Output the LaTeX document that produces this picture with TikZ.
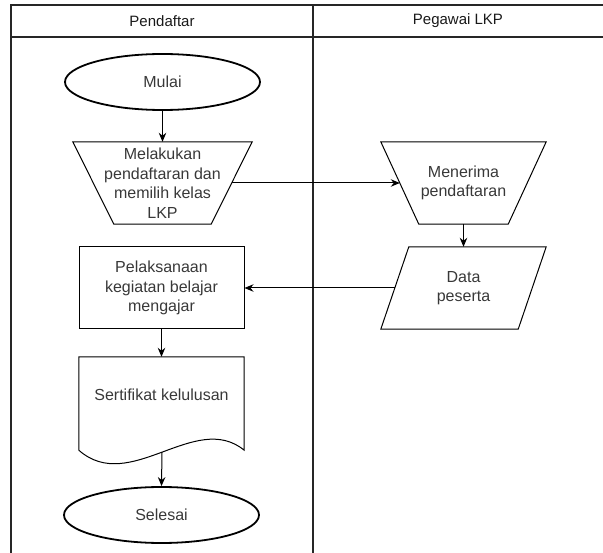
\documentclass[tikz,border=0pt]{standalone}
\usepackage{fontspec}
\setmainfont{Liberation Sans}
\usetikzlibrary{arrows.meta,calc,shapes.geometric}
\begin{document}
\begin{tikzpicture}[x=1pt,y=-1pt,
  lane/.style={draw=black!85,line width=1.3pt},
  hdr/.style={text=black!90,font=\fontsize{15}{18}\selectfont,inner sep=0pt},
  txt/.style={text=black!78,font=\fontsize{16}{19.5}\selectfont,align=center,inner sep=0pt},
  term/.style={ellipse,draw=black,line width=1.8pt,minimum width=195pt,minimum height=56pt,txt},
  box/.style={txt,minimum width=165pt,minimum height=82pt},
  outline/.style={draw=black,line width=1pt},
  flow/.style={draw=black,line width=1pt,-{Stealth[length=9pt,width=7.5pt]}}]
\useasboundingbox (0,0) rectangle (603,553);
% swimlanes
\draw[lane] (11,553) -- (11,5) -- (603,5);
\draw[lane] (11,37) -- (603,37);
\draw[lane] (313,5) -- (313,553);
\node[hdr] (h1) at (162,21) {Pendaftar};
\node[hdr] (h2) at (458,21) {Pegawai LKP};
% nodes
\node[term] (start) at (162.5,82) {Mulai};
\node[box,minimum width=179pt] (t1) at (162.5,183) {Melakukan\\pendaftaran dan\\memilih kelas\\LKP};
\draw[outline] (t1.north west) -- (t1.north east) -- ($(t1.south east)+(-41,0)$) -- ($(t1.south west)+(41,0)$) -- cycle;
\node[box] (t2) at (463.5,183) {Menerima\\pendaftaran};
\draw[outline] (t2.north west) -- (t2.north east) -- ($(t2.south east)+(-38,0)$) -- ($(t2.south west)+(38,0)$) -- cycle;
\node[box] (data) at (463.5,288) {Data\\peserta};
\draw[outline] ($(data.north west)+(28,0)$) -- (data.north east) -- ($(data.south east)+(-28,0)$) -- (data.south west) -- cycle;
\node[box,draw=black,line width=1pt] (proc) at (161.5,288) {Pelaksanaan\\kegiatan belajar\\mengajar};
\node[minimum width=165pt,minimum height=93pt,inner sep=0pt] (doc) at (161.5,403.5) {};
\node[txt] (doctext) at (161.5,395) {Sertifikat kelulusan};
\draw[outline] (doc.south west) -- (doc.north west) -- (doc.north east) -- (doc.south east)
  .. controls ($(doc.south east)+(-49,-40)$) and ($(doc.south west)+(51,45)$) .. (doc.south west);
\coordinate (docb) at ($(doc.south)+(0.5,2)$);
\node[term] (end) at (161.5,515) {Selesai};
% connectors
\coordinate (t1r) at ($(t1.east)+(-20.5,0)$);
\coordinate (t2l) at ($(t2.west)+(19,0)$);
\coordinate (datal) at ($(data.west)+(14,0)$);
\draw[flow] (start.south) -- (t1.north);
\draw[flow] (t1r) -- (t2l);
\draw[flow] (t2.south) -- (data.north);
\draw[flow] (datal) -- (proc.east);
\draw[flow] (proc.south) -- (doc.north);
\draw[flow] (docb) -- (end.north);
\end{tikzpicture}
\end{document}
